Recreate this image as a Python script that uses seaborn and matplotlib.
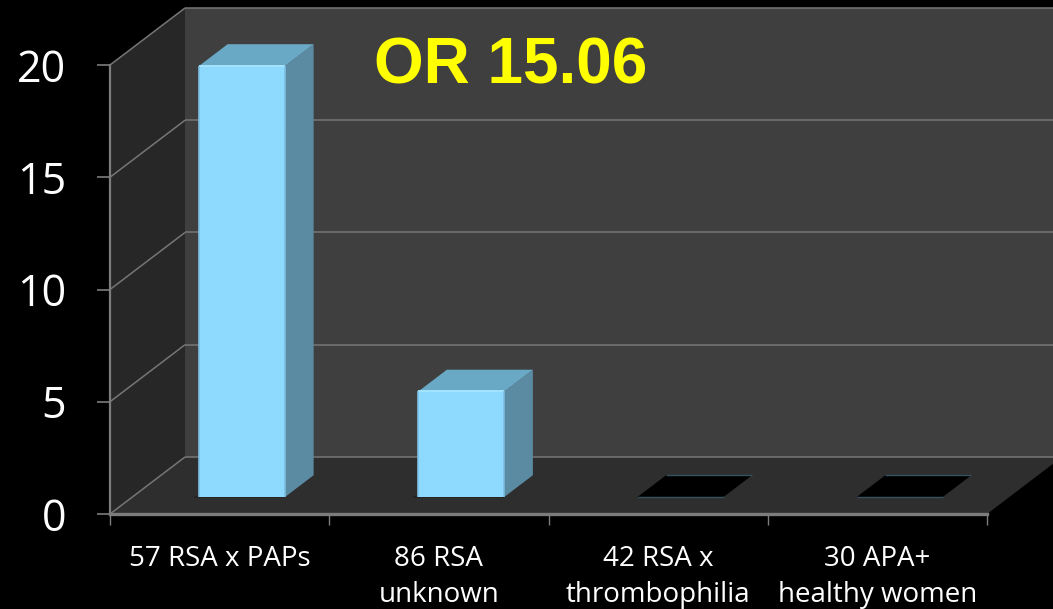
import matplotlib
matplotlib.use("Agg")
import matplotlib.pyplot as plt
from matplotlib.patches import Polygon
import seaborn as sns

categories = ["57 RSA x PAPs", "86 RSA\nunknown", "42 RSA x\nthrombophilia", "30 APA+\nhealthy women"]
values = [19.2, 4.7, 0, 0]
y_ticks = [0, 5, 10, 15, 20]
annotation = "OR 15.06"

W, H = 1053, 609
sns.set_theme(style="white")
plt.rcParams["font.family"] = ["Open Sans", "DejaVu Sans"]

fig = plt.figure(figsize=(W / 100, H / 100), dpi=100, facecolor="black")
ax = fig.add_axes([110 / W, (H - 514) / H, 877 / W, 449 / H], facecolor="none")

BAR_WIDTH = 86 / 219.25
sns.barplot(x=categories, y=values, color="#8edafe", saturation=1, width=BAR_WIDTH,
            linewidth=0, edgecolor="none", ax=ax, zorder=5)
ax.set_xlim(-0.5, 3.5)
ax.set_ylim(0, 20)

# Depth of the pseudo-3D box, in data units per unit of depth
DX = 75 / 219.25
DY = 57 / 22.45
NEAR, FAR = 0.30, 0.68


def proj(x, y, d):
    return (x + d * DX, y + d * DY)


def face(points, color, z, **kw):
    ax.add_patch(Polygon(points, closed=True, facecolor=color, edgecolor="none",
                         clip_on=False, zorder=z, **kw))


def seg(p, q, color="#767676", lw=1.1, z=2):
    ax.plot([p[0], q[0]], [p[1], q[1]], color=color, lw=lw, clip_on=False, zorder=z,
            solid_capstyle="butt")


# Walls and floor
x0, x1 = -0.5, 3.5
face([proj(x0, 0, 0), proj(x0, 20, 0), proj(x0, 20, 1), proj(x0, 0, 1)], "#272727", 0)
face([proj(x0, 0, 1), proj(x0, 20, 1), proj(x1, 20, 1), proj(x1, 0, 1)], "#3f3f3f", 0)
face([proj(x0, 0, 0), proj(x0, 0, 1), proj(x1, 0, 1), proj(x1, 0, 0)], "#2e2e2e", 0)

# Gridlines wrap from the left wall onto the back wall
for t in y_ticks:
    seg(proj(x0, t, 0), proj(x0, t, 1))
    seg(proj(x0, t, 1), proj(x1, t, 1))

# Extruded bars: front face comes from the bar plot, top and side are added to it
for patch, v in zip(ax.patches[:len(values)], values):
    cx = patch.get_x() + patch.get_width() / 2
    left, right = cx - BAR_WIDTH / 2, cx + BAR_WIDTH / 2
    if v > 0:
        patch.set_x(left + NEAR * DX)
        patch.set_y(NEAR * DY)
        patch.set_clip_on(False)
        patch.set_zorder(5)
        face([proj(right, 0, NEAR), proj(right, v, NEAR), proj(right, v, FAR), proj(right, 0, FAR)], "#5b8ba3", 4)
        face([proj(left, v, NEAR), proj(left, v, FAR), proj(right, v, FAR), proj(right, v, NEAR)], "#6aa9c6", 4)
        seg(proj(left, v, NEAR), proj(right, v, NEAR), color="#a3e4ff", lw=1.4, z=6)
        seg(proj(left, 0, NEAR), proj(left, v, NEAR), color="#7cc0e2", lw=1.2, z=6)
        seg(proj(right, 0, NEAR), proj(right, v, NEAR), color="#7cc0e2", lw=1.2, z=6)
        seg(proj(left - 0.02, 0, NEAR - 0.01), proj(right, 0, NEAR - 0.01), color="#222222", lw=1.2, z=3.5)
    else:
        patch.set_visible(False)
        face([proj(left, 0, NEAR), proj(left, 0, FAR), proj(right, 0, FAR), proj(right, 0, NEAR)], "black", 4)
        seg(proj(left, 0, NEAR), proj(right, 0, NEAR), color="#35505f", lw=1.0, z=5)
        seg(proj(left, 0, FAR), proj(right, 0, FAR), color="#35505f", lw=1.0, z=5)

# Axes
for side in ["top", "right"]:
    ax.spines[side].set_visible(False)
ax.spines["left"].set_color("#7c7c7c")
ax.spines["left"].set_linewidth(1.6)
ax.spines["bottom"].set_color("#7c7c7c")
ax.spines["bottom"].set_linewidth(2.4)
ax.set_yticks(y_ticks)
ax.tick_params(axis="y", length=9.5, width=1.2, color="#7c7c7c", labelcolor="white",
               labelsize=31, pad=22, left=True)
for label in ax.get_yticklabels():
    label.set_va("center_baseline")
ax.set_xticks(range(len(categories)))
ax.set_xticklabels(categories, linespacing=1.42)
ax.set_xticks([-0.5, 0.5, 1.5, 2.5, 3.5], minor=True)
ax.tick_params(axis="x", which="major", length=0, labelcolor="white", labelsize=20, pad=22)
ax.tick_params(axis="x", which="minor", length=8, width=1.0, color="#7c7c7c", bottom=True)
ax.set_xlabel("")
ax.set_ylabel("")

fig.text(511 / W, 1 - 67 / H, annotation, color="#ffff00", fontsize=46, fontweight="bold",
         family="Liberation Sans", ha="center", va="center")

fig.savefig("out.png", dpi=100, facecolor="black")
